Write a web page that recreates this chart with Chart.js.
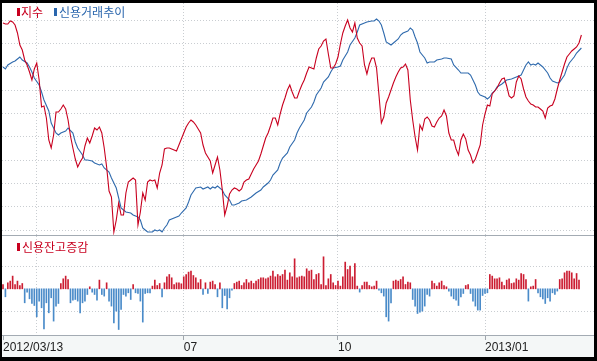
<!DOCTYPE html>
<html><head><meta charset="utf-8">
<script src="https://cdn.jsdelivr.net/npm/chart.js@4/dist/chart.umd.min.js"></script>
<style>
html,body{margin:0;padding:0;background:#000;width:597px;height:361px;overflow:hidden}
#frame{position:absolute;left:2px;top:3px;width:592px;height:354px;background:#fff;overflow:hidden}
#band{position:absolute;left:0;top:333px;width:592px;height:21px;background:#f4f7f7}
canvas{position:absolute;left:0}
#top{top:0}
#bot{top:233px}
.sep{position:absolute;left:0;width:592px;height:1px;background:#a3abb3}
.mk{position:absolute;width:3px;height:8px}
.lg{position:absolute;font-family:"Noto Sans CJK KR";font-size:12px;line-height:14px;white-space:nowrap}
</style></head>
<body>
<div id="frame">
  <div id="band"></div>
  <canvas id="top" width="592" height="232"></canvas>
  <canvas id="bot" width="592" height="121"></canvas>
  <div class="sep" style="top:232px"></div>
  <div class="sep" style="top:332px"></div>
  <div class="mk" style="left:15px;top:5px;background:#c8001f"></div>
  <div class="lg" style="left:19px;top:2px;color:#c8001f">지수</div>
  <div class="mk" style="left:52px;top:5px;background:#2a66ad"></div>
  <div class="lg" style="left:57px;top:2px;color:#2a66ad">신용거래추이</div>
  <div class="mk" style="left:15px;top:240px;background:#c8001f"></div>
  <div class="lg" style="left:20px;top:237px;color:#c8001f">신용잔고증감</div>
</div>
<script>
// ---- data (arbitrary units; trading-day index) ----
const tickDays   = [0, 75, 139, 200];
const tickLabels = ['2012/03/13', '07', '10', '2013/01'];
const gridDays   = [14, 75, 139, 200];

// index (지수), one value per trading day
const indexValues = [
212,211,211,214,213,210,202,190,185,175,
170,163,155,166,172,155,128,129,117,95,
87,100,123,123,126,130,126,115,99,87,
76,68,73,77,89,97,92,99,107,105,
108,102,87,68,44,38,3,15,32,20,
20,42,53,55,57,55,10,23,42,35,
53,55,54,55,47,62,70,86,87,87,
86,85,84,90,96,102,108,112,115,113,
110,106,102,90,82,78,74,62,70,78,
65,45,20,29,41,45,47,46,44,46,
53,55,56,61,66,70,74,81,89,97,
102,109,117,117,110,121,130,137,145,150,
143,137,137,144,150,155,162,168,167,166,
177,186,189,194,196,181,167,167,171,178,
191,202,209,215,207,203,212,197,192,189,
170,161,171,177,177,167,140,112,118,132,
138,145,152,158,163,167,168,171,165,135,
115,98,85,110,105,116,118,115,109,108,
113,117,119,125,119,102,95,95,86,80,
95,101,96,85,80,72,76,83,90,110,
121,130,129,141,144,147,152,156,157,149,
139,137,139,153,159,156,146,138,134,131,
130,128,128,126,124,117,127,129,130,136,
146,155,163,171,178,181,184,186,188,192,
200];

// credit trading trend (신용거래추이), read at these trading days
const creditDays = [
0,1,2,4,5,6,7,8,10,11,
12,13,15,16,17,19,20,22,23,24,
26,27,29,30,31,33,34,35,37,38,
40,41,42,44,45,47,48,49,50,51,
53,54,56,57,58,59,60,62,63,64,
65,66,67,68,69,71,73,74,76,77,
78,80,82,83,85,86,87,88,89,91,
92,94,95,96,98,99,101,103,104,105,
107,108,110,111,112,114,115,116,118,119,
121,122,123,125,126,128,129,130,132,133,
135,136,137,139,140,141,143,144,146,147,
148,150,151,153,154,155,156,157,158,159,
161,162,164,165,166,168,169,170,171,172,
173,175,176,177,179,180,182,183,184,186,
187,189,190,191,193,194,195,196,197,198,
200,201,202,203,204,205,207,208,209,211,
212,213,215,216,217,218,219,220,221,222,
223,224,226,227,228,230,231,233,234,235,
237,238,240];
const creditTrend = [
168,166,170,173,174,176,178,175,172,168,
163,157,150,143,135,124,112,102,100,102,
104,107,102,93,87,80,75,75,74,72,
70,71,67,63,57,47,37,27,25,23,
22,20,18,15,7,5,3,3,5,4,
5,3,7,10,15,17,19,22,27,33,
40,47,48,46,48,46,48,47,49,45,
40,35,30,30,32,34,35,38,40,42,
45,48,52,55,60,65,72,77,82,88,
95,102,107,115,122,128,133,140,147,153,
158,163,167,168,169,175,183,190,197,203,
210,212,213,214,214,216,214,210,202,193,
190,192,196,200,202,204,207,205,198,192,
183,177,172,173,173,175,176,177,177,176,
170,165,162,162,162,160,155,150,143,140,
138,136,138,142,144,148,151,153,155,156,
157,158,160,165,170,173,170,171,170,172,
170,168,162,157,154,152,153,160,167,172,
178,182,187];

// credit balance change (신용잔고증감), one bar per trading day
const creditChange = [
4.3,-8,6,7.7,12.7, 4.3,7.7,3.3,5.3,-14,
-3.3,-10,-14.7,-16.7,-28, -12.3,-19,-40,-14,-24,
-9,-32.3,-17.3,-14.7,5.3, 10,12.7,9.3,-14,-11.3,
-10.7,-12.3,-24,-14,-12.3, -5.7,2,-3.3,-5.7,-11.3,
8.7,-5.7,-7.3,6,-12.3, -17.3,-34,-22.3,-40.7,-20.7,
-5.7,-7.3,-4,-10.7,4.3, -4,-4.7,-12.3,-33.3,-4.7,
-4,-4,2.7,8.7,3.3, 5.3,-8,6,12,14.3,
11,4.3,6,6,5, 12,14.3,16.7,17.7,13.3,
11,6,9.3,-5.7,6, -4.7,6.7,7.7,4.3,-8,
6,-19,-6.7,-20,-9, -1.3,5.3,6.7,7.7,3.3,
6,9.3,6,7.7,5.3, 7.7,9.3,11,11,10,
11,12.7,17.7,12,14.3, 12.7,14.3,18.7,8.7,16,
12,30,11,
12,12.7,12,20,17.7,18.7,9.3,14.3,15.3,4.3,
32,
3.3,10,14.3,6,3.3,7.7,2.7,12,
26.7,
19.3,22.7,12,
25.3,
2.7,-3.3,3.3,6.7,6.7,3.3,2,2.7,7.7,-1.3,-4,-7.3,
-28,-32.3,-14,
7.7,8.7,7.7,9.3,12,4.3,6.7,6,-10.7,-17.3,
-24.7,
-23.3,-22.3,-17.3,-5.7,-7.3,7.7,5.3,2.7,6,7.7,3.3,2,-2.3,-7.3,-10,-11.3,
-16.7,
-8,-4.7,3.3,4.3,-4.7,-12.3,-17.3,
-21.3,-21.3,
-6.7,-4.7,-4,
14.3,
12.7,10,10,11,6.7,3.3,8.7,10,5.3,6,10,8.7,15.3,14.3,9.3,
-12.3,
2,2.7,9.3,-4,-8,-10,
-14.7,
-9,-12.3,-4,-5.7,-2.3,9.3,10,16,17.7,17.7,16,10,15.3,
8.7];

const topGridValues = [5, 28.3, 51.7, 75, 98.3, 121.7, 145, 168.3, 191.7, 215];
const botGridValues = [-22.5, 22.5];

// ---- styles ----
const RED = '#c8001f', BLUE = '#2f6aad';
const BAR_RED = '#cc1d32', BAR_BLUE = '#4a8bc9';
const GRID = '#c9cdd1';
const PX_PER_DAY = 2.41;
const xMin = -1 / PX_PER_DAY;
const xMax = xMin + 592 / PX_PER_DAY;

const common = {
  responsive: false, animation: false, devicePixelRatio: 1,
  layout: { padding: 0 },
  plugins: { legend: { display: false }, tooltip: { enabled: false } },
  events: []
};

new Chart(document.getElementById('top'), {
  type: 'line',
  data: { datasets: [
    { data: indexValues.map((v, i) => ({ x: i, y: v })), borderColor: RED, borderWidth: 1.1,
      pointRadius: 0, tension: 0, order: 1 },
    { data: creditDays.map((d, k) => ({ x: d, y: creditTrend[k] })), borderColor: BLUE, borderWidth: 1.1,
      pointRadius: 0, tension: 0, order: 2 }
  ]},
  options: Object.assign({}, common, {
    scales: {
      x: { type: 'linear', min: xMin, max: xMax, offset: false,
           ticks: { display: false },
           grid: { color: GRID, drawTicks: false, offset: false },
           border: { display: false, dash: [1, 2] },
           afterBuildTicks: s => { s.ticks = gridDays.map(v => ({ value: v })); },
           afterFit: s => { s.height = 0; } },
      y: { min: 0, max: 232,
           ticks: { display: false },
           grid: { color: GRID, drawTicks: false },
           border: { display: false, dash: [1, 2] },
           afterBuildTicks: s => { s.ticks = topGridValues.map(v => ({ value: v })); },
           afterFit: s => { s.width = 0; } }
    }
  })
});

const axisTicks = Array.from(new Set(tickDays.concat(gridDays))).sort((a, b) => a - b);

new Chart(document.getElementById('bot'), {
  type: 'bar',
  data: { datasets: [
    { data: creditChange.map((v, i) => ({ x: i, y: v })),
      backgroundColor: c => (c.raw && c.raw.y < 0) ? BAR_BLUE : BAR_RED,
      barThickness: 1, borderWidth: 0 }
  ]},
  options: Object.assign({}, common, {
    scales: {
      x: { type: 'linear', min: xMin, max: xMax, offset: false,
           grid: { offset: false,
                   color: c => (c.tick && c.tick.value === 0) ? 'rgba(0,0,0,0)' : GRID,
                   tickColor: c => (c.tick && tickDays.indexOf(c.tick.value) < 0) ? 'rgba(0,0,0,0)' : '#a0a6ac',
                   drawTicks: true, tickLength: 5, tickBorderDash: [] },
           border: { display: false, dash: [1, 2] },
           ticks: { autoSkip: false, maxRotation: 0, minRotation: 0, align: 'start', padding: 0,
                    color: '#222', font: { family: 'Liberation Sans', size: 12 },
                    callback: v => { const k = tickDays.indexOf(v); return k < 0 ? '' : tickLabels[k]; } },
           afterBuildTicks: s => { s.ticks = axisTicks.map(v => ({ value: v })); },
           afterFit: s => { s.height = 22; } },
      y: { min: -46.2, max: 52.8,
           ticks: { display: false },
           grid: { color: GRID, drawTicks: false },
           border: { display: false, dash: [1, 2] },
           afterBuildTicks: s => { s.ticks = botGridValues.map(v => ({ value: v })); },
           afterFit: s => { s.width = 0; } }
    }
  })
});
</script>
</body></html>
